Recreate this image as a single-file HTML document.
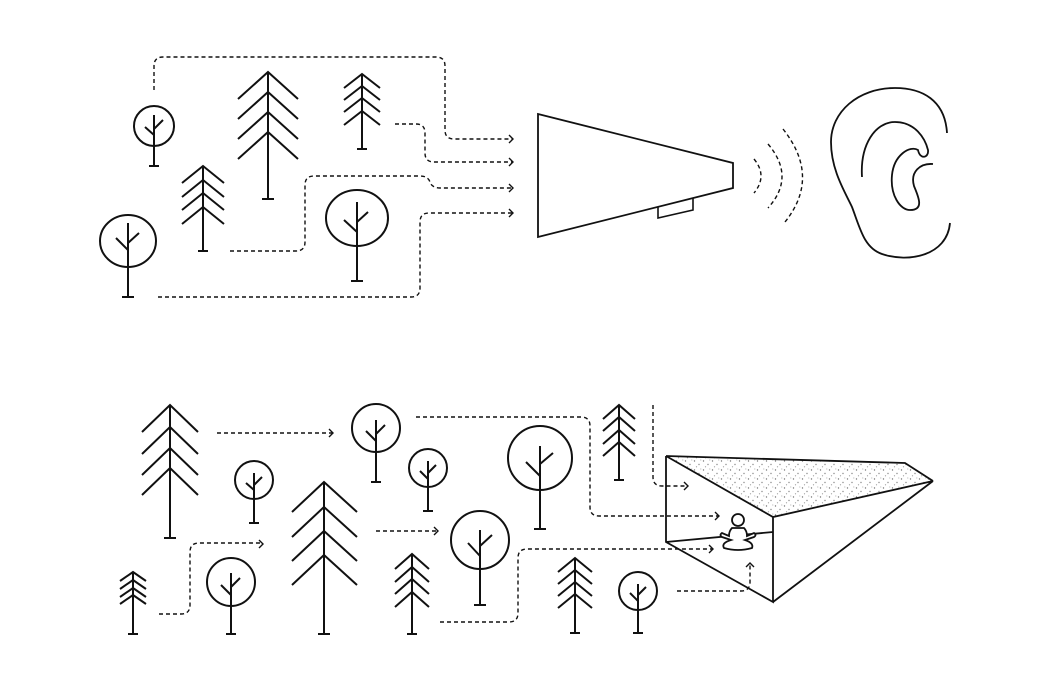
<!DOCTYPE html>
<html><head><meta charset="utf-8"><style>html,body{margin:0;padding:0;background:#fff}svg{display:block}</style></head>
<body>
<svg width="1050" height="700" viewBox="0 0 1050 700" xmlns="http://www.w3.org/2000/svg">
<defs>
<pattern id="dots" width="9" height="9" patternUnits="userSpaceOnUse">
<circle cx="1.5" cy="2" r="0.7" fill="#777"/><circle cx="6" cy="5.5" r="0.7" fill="#888"/><circle cx="3.5" cy="7.8" r="0.6" fill="#999"/><circle cx="7.8" cy="1" r="0.5" fill="#999"/>
</pattern>
</defs>
<g fill="none" stroke="#111" stroke-width="2" stroke-linejoin="miter">
<!-- TOP: pine A -->
<path d="M268,72 V199 M262,199 H274 M238,99 L268,72 L298,99 M238,119 L268,92 L298,119 M238,139 L268,112 L298,139 M238,159 L268,132 L298,159"/>
<!-- pine B -->
<path d="M362,74 V149 M357,149 H367 M344,88 L362,74 L380,88 M344,100 L362,86 L380,100 M344,112 L362,98 L380,112 M344,125 L362,111 L380,125"/>
<!-- pine C -->
<path d="M203,166 V251 M198,251 H208 M182,183 L203,166 L224,183 M182,197 L203,180 L224,197 M182,210 L203,193 L224,210 M182,224 L203,207 L224,224"/>
<!-- round D -->
<circle cx="154" cy="126" r="20"/>
<path d="M154,115 V166 M149,166 H159 M145,127 L154,135 M154,129 L163,120"/>
<!-- round E -->
<ellipse cx="128" cy="241" rx="28" ry="26"/>
<path d="M128,223 V297 M122,297 H134 M116,238 L128,250 M128,243 L139,233"/>
<!-- round F -->
<ellipse cx="357" cy="218" rx="31" ry="28"/>
<path d="M357,202 V281 M351,281 H363 M344,220 L357,232 M357,222 L368,212"/>

<!-- megaphone -->
<path d="M538,114 L733,163 L733,188 L538,237 Z" stroke-width="1.8"/>
<path d="M658,207 L658,218 L693,210 L693,198" stroke-width="1.6"/>

<!-- ear -->
<path d="M947,133 C945,100 922,88 895,88 C858,88 831,112 831,142 C831,170 845,192 852,207 C860,228 864,248 882,254 C908,263 947,256 950,223" stroke-width="1.8"/>
<path d="M862,177 C860,145 875,122 895,122 C915,122 925,138 928,150 C929,158 920,160 918,150 C910,145 894,155 892,175 C890,195 900,210 910,210 C925,210 918,196 914,186 C910,172 920,163 933,164" stroke-width="1.8"/>

<!-- BOTTOM -->
<!-- pine G -->
<path d="M170,405 V538 M164,538 H176 M142,432 L170,405 L198,432 M142,454 L170,427 L198,454 M142,475 L170,448 L198,475 M142,495 L170,468 L198,495"/>
<!-- pine N -->
<path d="M324,482 V634 M318,634 H330 M292,512 L324,482 L357,512 M292,537 L324,507 L357,537 M292,561 L324,531 L357,561 M292,585 L324,555 L357,585"/>
<!-- pine O -->
<path d="M133,572 V634 M128,634 H138 M120,581 L133,572 L146,581 M120,589 L133,580 L146,589 M120,597 L133,588 L146,597 M120,604 L133,595 L146,604"/>
<!-- pine P -->
<path d="M412,554 V634 M407,634 H417 M395,569 L412,554 L429,569 M395,582 L412,567 L429,582 M395,594 L412,579 L429,594 M395,607 L412,592 L429,607"/>
<!-- pine Q -->
<path d="M575,558 V633 M570,633 H580 M558,572 L575,558 L592,572 M558,584 L575,570 L592,584 M558,596 L575,582 L592,596 M558,608 L575,594 L592,608"/>
<!-- pine R -->
<path d="M619,405 V480 M614,480 H624 M603,419 L619,405 L635,419 M603,431 L619,417 L635,431 M603,444 L619,430 L635,444 M603,456 L619,442 L635,456"/>
<!-- round H -->
<circle cx="254" cy="480" r="19"/>
<path d="M254,473 V523 M249,523 H259 M246,483 L254,490 M254,485 L262,477"/>
<!-- round I -->
<circle cx="376" cy="428" r="24"/>
<path d="M376,420 V482 M371,482 H381 M366,431 L376,441 M376,434 L385,425"/>
<!-- round J -->
<circle cx="428" cy="468" r="19"/>
<path d="M428,461 V511 M423,511 H433 M420,471 L428,479 M428,473 L436,465"/>
<!-- round K -->
<circle cx="540" cy="458" r="32"/>
<path d="M540,446 V529 M534,529 H546 M526,462 L540,476 M540,464 L553,453"/>
<!-- round L -->
<circle cx="480" cy="540" r="29"/>
<path d="M480,530 V605 M474,605 H486 M468,543 L480,556 M480,546 L492,535"/>
<!-- round M -->
<circle cx="231" cy="582" r="24"/>
<path d="M231,573 V634 M226,634 H236 M221,585 L231,595 M231,587 L240,578"/>
<!-- round S -->
<circle cx="638" cy="591" r="19"/>
<path d="M638,584 V633 M633,633 H643 M630,593 L638,601 M638,595 L646,587"/>

<!-- prism -->
<path d="M666,456 L905,463 L933,481 L773,517 Z" fill="url(#dots)" stroke="none"/>
<path d="M666,456 L905,463 L933,481 M666,456 L773,517 L933,481 M666,456 V542 L773,602 V517 M773,602 L933,481 M666,542 L773,532" stroke-width="1.8"/>
<!-- person -->
<path d="M732,528 Q729,531 729,536 L722,533 Q719,535 722,537 L731,540 Q721,543 724,548 Q738,552 752,548 Q754,543 745,540 L754,537 Q757,535 754,533 L747,536 Q747,531 744,528 Z" fill="#fff" stroke-width="1.8"/>
<circle cx="738" cy="520" r="6" fill="#fff" stroke-width="1.8"/>
</g>

<g fill="none" stroke="#111" stroke-width="1.4" stroke-dasharray="4 3">
<path d="M154,90 V66 Q154,57 163,57 H436 Q445,57 445,66 V130 Q445,139 454,139 H512"/>
<path d="M395,124 H416 Q425,124 425,133 V153 Q425,162 434,162 H512"/>
<path d="M230,251 H296 Q305,251 305,242 V185 Q305,176 314,176 H420 Q428,176 430,182 Q432,188 440,188 H512"/>
<path d="M158,297 H411 Q420,297 420,288 V222 Q420,213 429,213 H512"/>
<!-- sound waves -->
<path d="M754,159 Q768,176 754,193"/>
<path d="M768,144 Q796,177 768,208"/>
<path d="M783,129 Q821,177 785,222"/>
<!-- bottom -->
<path d="M217,433 H332"/>
<path d="M159,614 H181 Q190,614 190,605 V552 Q190,543 199,543 H262"/>
<path d="M376,531 H437"/>
<path d="M416,417 H581 Q590,417 590,426 V507 Q590,516 599,516 H719"/>
<path d="M440,622 H509 Q518,622 518,613 V558 Q518,549 527,549 H712"/>
<path d="M653,405 V477 Q653,486 662,486 H687"/>
<path d="M677,591 H741 Q750,591 750,582 V564"/>
</g>
<g fill="none" stroke="#111" stroke-width="1.4">
<path d="M509,135 L513,139 L509,143 M509,158 L513,162 L509,166 M509,184 L513,188 L509,192 M509,209 L513,213 L509,217"/>
<path d="M329,429 L333,433 L329,437 M259,540 L263,544 L259,548 M434,527 L438,531 L434,535 M715,512 L719,516 L715,520 M709,545 L713,549 L709,553 M684,482 L688,486 L684,490 M746,567 L750,563 L754,567"/>
</g>
</svg>
</body></html>
